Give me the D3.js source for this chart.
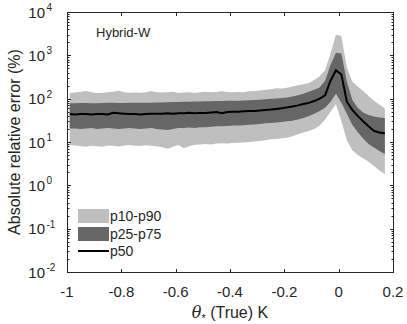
<!DOCTYPE html>
<html>
<head>
<meta charset="utf-8">
<script src="https://cdn.jsdelivr.net/npm/d3@7"></script>
<style>
  body { margin: 0; background: #fff; }
  text { font-family: "Liberation Sans", Arial, sans-serif; fill: #262626; }
</style>
</head>
<body>
<div id="chart"></div>
<script>
// theta_* (True) values, K
var thetaVals = [-0.99,-0.97,-0.95,-0.93,-0.91,-0.89,-0.87,-0.85,-0.83,-0.81,
  -0.79,-0.77,-0.75,-0.73,-0.71,-0.69,-0.67,-0.65,-0.63,-0.61,
  -0.59,-0.57,-0.55,-0.53,-0.51,-0.49,-0.47,-0.45,-0.43,-0.41,
  -0.39,-0.37,-0.35,-0.33,-0.31,-0.29,-0.27,-0.25,-0.23,-0.21,
  -0.19,-0.17,-0.15,-0.13,-0.11,-0.09,-0.07,-0.05,-0.03,-0.01,
  0.01,0.03,0.05,0.07,0.09,0.11,0.13,0.15,0.17];

// percentiles of absolute relative error (%)
var p10 = [8.5,8.3,8.0,7.8,8.2,8.0,7.8,8.3,8.2,7.9,
  8.3,8.5,8.2,8.1,8.4,8.2,8.0,7.6,7.0,7.8,
  8.5,7.2,8.0,8.6,8.8,9.0,8.8,9.2,9.4,9.2,
  9.5,9.6,9.8,10,10.3,10.5,11,11.5,11.8,12.2,
  12.5,13.5,15,16.5,18,20,24,33,50,75,
  30,11,6.5,5,4.2,3.5,2.8,2.2,1.8];
var p25 = [20.5,20.5,20,20.5,21,20,20.5,21,20.5,20,
  20.5,21,20.5,20,20.5,21,20,19.5,19,20,
  21,21,21.5,21,22,22,22.5,23,23,23.5,
  24,24,24.5,25,25.5,26,27,27.5,28,29,
  30,31,33,36,40,45,52,62,85,130,
  80,45,25,17,12,9,7.5,6.2,5.3];
var p50 = [44,43,44,44,43,44,44,43,47,46,
  45,44,44,43,44,45,45,45,46,45,
  46,46,47,46,47,47,48,49,46,49,
  50,50,51,52,52,53,55,56,58,60,
  63,66,70,75,80,88,100,120,260,450,
  360,85,55,40,30,23,18,16.5,16];
var p75 = [78,78,79,79,78,78,79,80,80,79,
  79,80,80,81,80,81,82,82,83,84,
  84,85,85,86,86,87,87,88,88,89,
  89,90,91,92,93,95,97,99,101,103,
  106,112,120,130,145,160,180,260,600,1150,
  1100,250,95,62,48,42,39,37,36];
var p90 = [135,138,145,150,140,136,137,140,145,152,
  140,137,138,137,140,150,140,138,140,145,
  135,138,140,136,140,145,140,142,148,142,
  140,142,140,148,150,155,160,165,175,172,
  178,190,205,215,230,270,330,450,1100,3000,
  2800,530,250,190,150,115,90,72,60];

var xTicks = [-1,-0.8,-0.6,-0.4,-0.2,0,0.2];
var yExps = [-2,-1,0,1,2,3,4];
var legendLabels = ["p10-p90","p25-p75","p50"];

var lightFill = "#bfbfbf";
var darkFill = "#666666";
var axisColor = "#262626";

var W = 407, H = 324;
var pL = 67, pR = 393, pT = 12, pB = 272;

var svg = d3.select("#chart").append("svg")
  .attr("width", W).attr("height", H)
  .style("background", "#fff");

var x = d3.scaleLinear().domain([-1, 0.2]).range([pL, pR]);
var y = d3.scaleLog().domain([1e-2, 1e4]).range([pB, pT]);

var rows = thetaVals.map(function(t, i){
  return {t: t, p10: p10[i], p25: p25[i], p50: p50[i], p75: p75[i], p90: p90[i]};
});

var band = function(lo, hi){
  return d3.area()
    .x(function(d){ return x(d.t); })
    .y0(function(d){ return y(d[lo]); })
    .y1(function(d){ return y(d[hi]); });
};

svg.append("path").datum(rows)
  .attr("d", band("p10","p90"))
  .attr("fill", lightFill);
svg.append("path").datum(rows)
  .attr("d", band("p25","p75"))
  .attr("fill", darkFill);
svg.append("path").datum(rows)
  .attr("d", d3.line().x(function(d){ return x(d.t); }).y(function(d){ return y(d.p50); }))
  .attr("fill", "none")
  .attr("stroke", "#000")
  .attr("stroke-width", 2);

// box
var ax = svg.append("g").attr("stroke", axisColor).attr("fill", "none").attr("stroke-width", 1);
ax.append("rect")
  .attr("x", pL + 0.5).attr("y", pT + 0.5)
  .attr("width", pR - pL).attr("height", pB - pT);

// x ticks (bottom and top, inward)
xTicks.forEach(function(t){
  var px = Math.round(x(t)) + 0.5;
  ax.append("line").attr("x1", px).attr("x2", px).attr("y1", pB + 0.5).attr("y2", pB - 3);
  ax.append("line").attr("x1", px).attr("x2", px).attr("y1", pT + 0.5).attr("y2", pT + 4);
});

// y ticks, major and minor, left and right
yExps.forEach(function(e){
  var py = Math.round(y(Math.pow(10, e))) + 0.5;
  ax.append("line").attr("x1", pL + 0.5).attr("x2", pL + 4).attr("y1", py).attr("y2", py);
  ax.append("line").attr("x1", pR + 0.5).attr("x2", pR - 3).attr("y1", py).attr("y2", py);
  if (e < 4) {
    d3.range(2, 10).forEach(function(m){
      var my = Math.round(y(m * Math.pow(10, e))) + 0.5;
      ax.append("line").attr("x1", pL + 0.5).attr("x2", pL + 2.5).attr("y1", my).attr("y2", my);
      ax.append("line").attr("x1", pR + 0.5).attr("x2", pR - 1.5).attr("y1", my).attr("y2", my);
    });
  }
});

// x tick labels
svg.selectAll(".xlab").data(xTicks).enter().append("text")
  .attr("x", function(d){ return x(d); })
  .attr("y", 297)
  .attr("text-anchor", "middle")
  .style("font-size", "15px")
  .text(function(d){ return String(d); });

// y tick labels 10^e
var ylab = svg.selectAll(".ylab").data(yExps).enter().append("g")
  .attr("transform", function(d){ return "translate(0," + y(Math.pow(10, d)) + ")"; });
ylab.append("text")
  .attr("x", 45).attr("y", 5.5)
  .attr("text-anchor", "end")
  .style("font-size", "15px")
  .text("10");
ylab.append("text")
  .attr("x", 46.5).attr("y", -1)
  .style("font-size", "10px")
  .text(function(d){ return String(d); });

// axis titles
svg.append("text")
  .attr("transform", "translate(20," + ((pT + pB) / 2) + ") rotate(-90)")
  .attr("text-anchor", "middle")
  .style("font-size", "16px")
  .text("Absolute relative error (%)");

var xt = svg.append("text")
  .attr("x", (pL + pR) / 2).attr("y", 318)
  .attr("text-anchor", "middle")
  .style("font-size", "16px");
xt.append("tspan").style("font-style", "italic").style("font-family", "'DejaVu Serif', serif").text("θ");
xt.append("tspan").attr("dy", 4).style("font-size", "11px").text("*");
xt.append("tspan").attr("dy", -4).text(" (True) K");

// panel label
svg.append("text")
  .attr("x", 96).attr("y", 37)
  .style("font-size", "13px")
  .text("Hybrid-W");

// legend
var lg = svg.append("g");
var swatches = [
  {type: "rect", fill: lightFill, y: 209},
  {type: "rect", fill: darkFill, y: 227},
  {type: "line", fill: "#000", y: 251}
];
swatches.forEach(function(s, i){
  if (s.type === "rect") {
    lg.append("rect").attr("x", 78).attr("y", s.y).attr("width", 31).attr("height", 14).attr("fill", s.fill);
  } else {
    lg.append("line").attr("x1", 78).attr("x2", 109).attr("y1", s.y).attr("y2", s.y)
      .attr("stroke", s.fill).attr("stroke-width", 2);
  }
  lg.append("text")
    .attr("x", 110)
    .attr("y", (s.type === "rect" ? s.y + 7 : s.y) + 5)
    .style("font-size", "14px")
    .text(legendLabels[i]);
});
</script>
</body>
</html>
